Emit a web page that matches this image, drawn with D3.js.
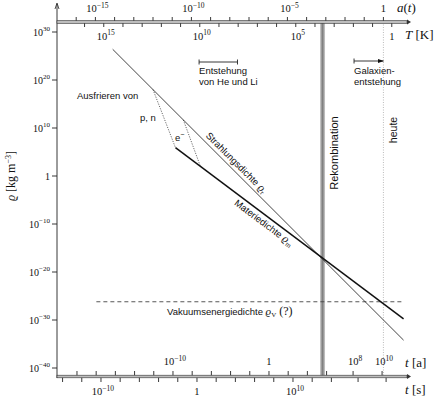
<!DOCTYPE html>
<html><head><meta charset="utf-8">
<script src="https://cdn.jsdelivr.net/npm/d3@7"></script>
<style>
body{margin:0;background:#fff}
svg{display:block}
.serif{font-family:"Liberation Serif","DejaVu Serif",serif;fill:#111}
.sans{font-family:"Liberation Sans","DejaVu Sans",sans-serif;fill:#111}
</style></head><body>
<svg id="c" width="434" height="400"></svg>
<script>
// ---- data (all values are log10) ----
const rhoTicks = [30, 20, 10, 0, -10, -20, -30, -40];        // log10 rho [kg m^-3]
const aTicks = d3.range(-16, 1);                               // log10 a
const aLabels = [-15, -10, -5, 0];
const TTicks = d3.range(16, -1, -1);                           // log10 T [K]
const TLabels = [15, 10, 5, 0];
const tYearTicks = d3.range(-20, 11, 2);                       // log10 t [a]
const tYearLabels = [-10, 0, 8, 10];
const tSecTicks = d3.range(-14, 19, 2);                        // log10 t [s]
const tSecLabels = [-10, 0, 10];
const radiationLogA = [-14.1, 1.05];
const radiationLogRho = [26.4, -34.2];
const matterLogA = [-10.83, 1.05];
const matterLogRho = [5.9, -29.75];
const vacuumLogA = [-14.95, 1.05];
const vacuumLogRho = [-26.2, -26.2];
const freezePNLogA = [-12, -10.83];
const freezePNLogRho = [18, 5.9];
const freezeELogA = [-10.42, -9.53];
const freezeELogRho = [11.68, 2.0];
const recombLogA = -3.17;
const todayLogA = 0;
const heLiLogA = [-9.6, -7.6];
const galaxyLogA = [-1.53, 0];
// time axes are not linear in a at late times: anchor points (log t -> log a)
const yearAnchorsT = [-20, 6, 8, 10];
const yearAnchorsA = [-15.96, -2.96, -1.58, -0.07];
const secAnchorsT = [-14, 14, 16, 18];
const secAnchorsA = [-16.71, -2.71, -1.32, 0.14];

// ---- scales ----
const xA = d3.scaleLinear().domain([-17, 1.4]).range([57, 410.3]);
const yR = d3.scaleLinear().domain([30, -40]).range([32, 368]);
const TtoA = lt => Math.log10(2.725) - lt;
const yearToA = d3.scaleLinear().domain(yearAnchorsT).range(yearAnchorsA);
const secToA = d3.scaleLinear().domain(secAnchorsT).range(secAnchorsA);
const xT = lt => xA(TtoA(lt));
const xY = lt => xA(yearToA(lt));
const xS = lt => xA(secToA(lt));

const svg = d3.select("#c");
const X0 = 57, TOPY = 22, BOTY = 376.5;

function pow10(sel, e, supSize) {
  if (e === 0) { sel.text("1"); return; }
  sel.append("tspan").text("10");
  sel.append("tspan").attr("dy", -4.5).attr("font-size", supSize)
     .text(String(e).replace("-", "\u2212"));
}

// defs: arrowhead
const defs = svg.append("defs");
defs.append("marker").attr("id", "ah").attr("viewBox", "0 0 10 10")
  .attr("refX", 9).attr("refY", 5).attr("markerWidth", 6).attr("markerHeight", 6)
  .attr("orient", "auto").attr("markerUnits", "userSpaceOnUse")
  .append("path").attr("d", "M0,1.5 L10,5 L0,8.5 Z").attr("fill", "#111");
const grad = defs.append("linearGradient").attr("id", "rg").attr("x1", 0).attr("x2", 1);
grad.append("stop").attr("offset", "0").attr("stop-color", "#cfcfcf");
grad.append("stop").attr("offset", "0.45").attr("stop-color", "#808080");
grad.append("stop").attr("offset", "0.55").attr("stop-color", "#808080");
grad.append("stop").attr("offset", "1").attr("stop-color", "#cfcfcf");

// today dotted line
svg.append("line").attr("x1", xA(todayLogA)).attr("x2", xA(todayLogA))
  .attr("y1", TOPY).attr("y2", BOTY).attr("stroke", "#aaa").attr("stroke-width", 0.8)
  .attr("stroke-dasharray", "1,1.5");

// recombination band
svg.append("rect").attr("x", xA(recombLogA) - 2.5).attr("width", 5)
  .attr("y", TOPY).attr("height", BOTY - TOPY).attr("fill", "url(#rg)");

// left axis
svg.append("line").attr("x1", X0).attr("x2", X0).attr("y1", BOTY + 1.5).attr("y2", 4)
  .attr("stroke", "#222").attr("stroke-width", 0.9);
svg.append("path").attr("d", `M${X0-2},9 L${X0},3 L${X0+2},9`).attr("fill", "none").attr("stroke", "#222").attr("stroke-width", 0.8);
svg.selectAll(".yt").data(rhoTicks).join("line").attr("class", "yt")
  .attr("x1", X0 - 5).attr("x2", X0).attr("y1", d => yR(d)).attr("y2", d => yR(d))
  .attr("stroke", "#222").attr("stroke-width", 0.9);
svg.selectAll(".yl").data(rhoTicks).join("text").attr("class", "yl serif")
  .attr("x", 50).attr("y", d => yR(d) + 3.5).attr("text-anchor", "end").attr("font-size", 10)
  .each(function(d){ pow10(d3.select(this), d, 7); });

// horizontal band axes
function band(y) {
  svg.append("rect").attr("x", X0).attr("y", y - 1.3).attr("width", 350).attr("height", 2.6)
    .attr("fill", "#bdbdbd").attr("stroke", "#333").attr("stroke-width", 0.6);
  svg.append("path").attr("d", `M${X0+350},${y-2.5} L${X0+354},${y} L${X0+350},${y+2.5} Z`).attr("fill", "#333");
}
band(TOPY);
band(BOTY);

function ticks(cls, data, fx, y1, y2) {
  svg.selectAll("." + cls).data(data).join("line").attr("class", cls)
    .attr("x1", fx).attr("x2", fx).attr("y1", y1).attr("y2", y2)
    .attr("stroke", "#222").attr("stroke-width", 0.9);
}
ticks("at", aTicks, d => xA(d), TOPY - 1.3, TOPY - 5);
ticks("tt", TTicks, d => xT(d), TOPY + 1.3, TOPY + 5);
ticks("yat", tYearTicks, d => xY(d), BOTY - 1.3, BOTY - 5.5);
ticks("st", tSecTicks, d => xS(d), BOTY + 1.3, BOTY + 5.5);

function tickLabels(cls, data, fx, y) {
  svg.selectAll("." + cls).data(data).join("text").attr("class", cls + " serif")
    .attr("x", d => fx(d) + (d === 0 ? 0 : 2)).attr("y", y).attr("text-anchor", "middle").attr("font-size", 10.5)
    .each(function(d){ pow10(d3.select(this), d, 7.5); });
}
tickLabels("al", aLabels, d => xA(d), 12);
tickLabels("tl", TLabels, d => xT(d), 39.5);
tickLabels("yal", tYearLabels, d => xY(d), 365);
tickLabels("sl", tSecLabels, d => xS(d), 395);

// axis titles
svg.append("text").attr("class", "serif").attr("x", 397).attr("y", 12).attr("font-size", 13)
  .html('<tspan font-style="italic">a</tspan>(<tspan font-style="italic">t</tspan>)');
svg.append("text").attr("class", "serif").attr("x", 405).attr("y", 39).attr("font-size", 13)
  .html('<tspan font-style="italic">T</tspan> [K]');
svg.append("text").attr("class", "serif").attr("x", 405).attr("y", 367).attr("font-size", 13)
  .html('<tspan font-style="italic">t</tspan> [a]');
svg.append("text").attr("class", "serif").attr("x", 405).attr("y", 394).attr("font-size", 13)
  .html('<tspan font-style="italic">t</tspan> [s]');
svg.append("text").attr("class", "serif").attr("transform", "translate(15,176) rotate(-90)")
  .attr("text-anchor", "middle").attr("font-size", 12)
  .html('<tspan font-style="italic">\u03F1</tspan> [kg m<tspan dy="-4" font-size="8">\u22123</tspan><tspan dy="4">]</tspan>');

// lines
const line = d3.line().x(d => xA(d[0])).y(d => yR(d[1]));
const zipL = (a, r) => a.map((v, i) => [v, r[i]]);
svg.append("path").attr("d", line(zipL(vacuumLogA, vacuumLogRho))).attr("fill", "none")
  .attr("stroke", "#444").attr("stroke-width", 0.9).attr("stroke-dasharray", "4,3");
svg.append("path").attr("d", line(zipL(freezePNLogA, freezePNLogRho))).attr("fill", "none")
  .attr("stroke", "#444").attr("stroke-width", 0.8).attr("stroke-dasharray", "1.2,1.3");
svg.append("path").attr("d", line(zipL(freezeELogA, freezeELogRho))).attr("fill", "none")
  .attr("stroke", "#444").attr("stroke-width", 0.8).attr("stroke-dasharray", "1.2,1.3");
svg.append("path").attr("d", line(zipL(radiationLogA, radiationLogRho))).attr("fill", "none")
  .attr("stroke", "#222").attr("stroke-width", 0.85);
svg.append("path").attr("d", line(zipL(matterLogA, matterLogRho))).attr("fill", "none")
  .attr("stroke", "#111").attr("stroke-width", 1.5);

// He/Li bracket
const yb = 62;
svg.append("line").attr("x1", xA(heLiLogA[0])).attr("x2", xA(heLiLogA[1])).attr("y1", yb).attr("y2", yb)
  .attr("stroke", "#222").attr("stroke-width", 0.9);
heLiLogA.forEach(v => svg.append("line").attr("x1", xA(v)).attr("x2", xA(v)).attr("y1", yb - 2.5).attr("y2", yb + 2.5)
  .attr("stroke", "#222").attr("stroke-width", 0.9));
// galaxy arrow
svg.append("line").attr("x1", xA(galaxyLogA[0])).attr("x2", xA(galaxyLogA[1])).attr("y1", 61).attr("y2", 61)
  .attr("stroke", "#222").attr("stroke-width", 0.9).attr("marker-end", "url(#ah)");
svg.append("line").attr("x1", xA(galaxyLogA[0])).attr("x2", xA(galaxyLogA[0])).attr("y1", 58.5).attr("y2", 63.5)
  .attr("stroke", "#222").attr("stroke-width", 0.9);

// annotations
function txt(x, y, s, size) {
  return svg.append("text").attr("class", "sans").attr("x", x).attr("y", y).attr("font-size", size || 9.5).html(s);
}
txt(xA(heLiLogA[0]), 74, "Entstehung");
txt(xA(heLiLogA[0]), 85, "von He und Li");
txt(xA(galaxyLogA[0]), 74, "Galaxien-");
txt(xA(galaxyLogA[0]), 85, "entstehung");
txt(77, 99, "Ausfrieren von");
txt(140, 121, "p, n");
txt(175, 141, 'e<tspan dy="-4" font-size="7">\u2212</tspan>');
txt(167, 315, 'Vakuumsenergiedichte <tspan class="serif" font-style="italic" font-size="11">\u03F1</tspan><tspan class="serif" dy="2" font-size="7">V</tspan><tspan dy="-2" class="serif" font-size="12"> (?)</tspan>');
svg.append("text").attr("class", "sans").attr("font-size", 9.5).attr("text-anchor", "middle")
  .attr("transform", "translate(234,165) rotate(45)")
  .html('Strahlungsdichte <tspan class="serif" font-style="italic" font-size="11">\u03F1</tspan><tspan class="serif" dy="2" font-size="7">r</tspan>');
svg.append("text").attr("class", "sans").attr("font-size", 9.5).attr("text-anchor", "middle")
  .attr("transform", "translate(262,225.5) rotate(36.87)")
  .html('Materiedichte <tspan class="serif" font-style="italic" font-size="11">\u03F1</tspan><tspan class="serif" dy="2" font-size="7">m</tspan>');
svg.append("text").attr("class", "sans").attr("font-size", 11).attr("text-anchor", "middle")
  .attr("transform", `translate(${xA(recombLogA) + 15},153) rotate(-90)`).text("Rekombination");
svg.append("text").attr("class", "sans").attr("font-size", 10.5).attr("text-anchor", "middle")
  .attr("transform", `translate(${xA(todayLogA) + 14},130) rotate(-90)`).text("heute");
</script>
</body></html>
